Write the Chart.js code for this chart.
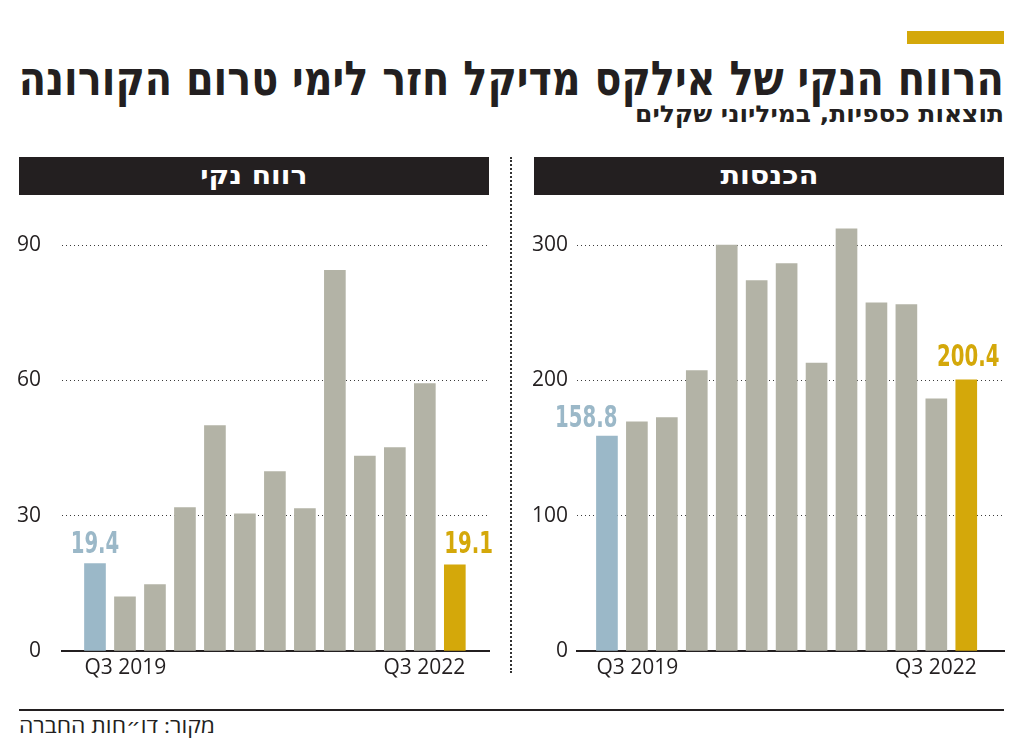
<!DOCTYPE html>
<html>
<head>
<meta charset="utf-8">
<script src="https://cdn.jsdelivr.net/npm/chart.js@4.4.1/dist/chart.umd.min.js"></script>
<style>
  html, body { margin: 0; padding: 0; background: #fff; }
  body { width: 1024px; height: 750px; position: relative; overflow: hidden; color: #231f20; }
  .abs { position: absolute; }
  .heb { font-family: "DejaVu Sans Condensed", "DejaVu Sans", sans-serif; font-stretch: condensed; font-weight: bold; white-space: nowrap; direction: rtl; }
  #goldmark { left: 907px; top: 31px; width: 97px; height: 13px; background: #d4a80a; }
  #title { right: 20px; top: 55px; font-size: 48px; line-height: 46px; transform-origin: right center; }
  #subtitle { right: 20px; top: 103px; font-size: 23px; line-height: 22px; transform-origin: right center; }
  .head { top: 157px; width: 470px; height: 38px; background: #231f20; display: flex; justify-content: center; align-items: center; }
  .head span { color: #fff; font-size: 25px; line-height: 38px; display: inline-block; transform-origin: center; }
  #sep { left: 510px; top: 157px; height: 516px; border-left: 2px dotted #333; }
  #rule { left: 19px; top: 709px; width: 985px; height: 2px; background: #231f20; }
  #source { left: 19px; top: 713px; font-family: "Open Sans", "DejaVu Sans", sans-serif; font-size: 20px; line-height: 26px; direction: rtl; white-space: nowrap; transform-origin: left center; }
  canvas { position: absolute; top: 200px; }
</style>
</head>
<body>
<div id="goldmark" class="abs"></div>
<div id="title" class="abs heb">הרווח הנקי של אילקס מדיקל חזר לימי טרום הקורונה</div>
<div id="subtitle" class="abs heb">תוצאות כספיות, במיליוני שקלים</div>
<div class="abs head" style="left:19px"><span class="heb" id="headProfit">רווח נקי</span></div>
<div class="abs head" style="left:534px"><span class="heb" id="headRevenue">הכנסות</span></div>
<div id="sep" class="abs"></div>
<canvas id="profitChart" width="500" height="490" style="left:0px"></canvas>
<canvas id="revenueChart" width="512" height="490" style="left:512px"></canvas>
<div id="rule" class="abs"></div>
<div id="source" class="abs">מקור: דו״חות החברה</div>

<script>
// quarters, Q3 2019 .. Q3 2022
const quarters = ['Q3 2019', 'Q4 2019', 'Q1 2020', 'Q2 2020', 'Q3 2020', 'Q4 2020', 'Q1 2021',
  'Q2 2021', 'Q3 2021', 'Q4 2021', 'Q1 2022', 'Q2 2022', 'Q3 2022'];
// net profit, millions ILS
const netProfit = [19.4, 12.0, 14.7, 31.8, 50.0, 30.4, 39.8, 31.6, 84.4, 43.2, 45.1, 59.3, 19.1];
// revenue, millions ILS
const revenue = [158.8, 169.3, 172.6, 207.2, 300.0, 273.8, 286.3, 212.8, 312.0, 257.3, 256.0, 186.4, 200.4];
const profitTicks = [0, 30, 60, 90];
const revenueTicks = [0, 100, 200, 300];

const INK = '#231f20';
const BLUE = '#9bb8c8';
const GRAY = '#b3b3a6';
const GOLD = '#d4a80a';

// squeeze the hebrew headings to the width they have in the print version
function fitX(id, target) {
  const el = document.getElementById(id);
  el.style.display = 'inline-block';
  const w = el.getBoundingClientRect().width;
  el.style.transform = 'scaleX(' + (target / w) + ')';
}
fitX('title', 985);
fitX('subtitle', 369);
fitX('headProfit', 107);
fitX('headRevenue', 98);
fitX('source', 196);

// numbers above the first and last bar (condensed by hand, no narrow font here)
const valueLabels = {
  id: 'valueLabels',
  afterDatasetsDraw(chart, args, opts) {
    const ctx = chart.ctx;
    const meta = chart.getDatasetMeta(0);
    const pts = chart.data.datasets[0].data;
    const sx = 0.73;
    ctx.save();
    ctx.font = 'bold 30px "DejaVu Sans Condensed", "DejaVu Sans", sans-serif';
    ctx.textBaseline = 'alphabetic';
    opts.items.forEach((item) => {
      const bar = meta.data[item.index];
      const half = bar.width / 2;
      let x = bar.x + (item.dx || 0);
      if (item.align === 'left') x -= half;
      if (item.align === 'right') x += half;
      ctx.save();
      ctx.translate(x, bar.y - item.gap);
      ctx.scale(sx, 1);
      ctx.textAlign = item.align;
      ctx.fillStyle = item.color;
      ctx.fillText(pts[item.index].y.toFixed(1), 0, 0);
      ctx.restore();
    });
    ctx.restore();
  }
};

const tickFont = { family: '"Open Sans", sans-serif', size: 21 };

function makeChart(id, values, yTicks, cfg) {
  const last = values.length - 1;
  return new Chart(document.getElementById(id), {
    type: 'bar',
    data: {
      datasets: [{
        data: values.map((v, i) => ({ x: i, y: v })),
        backgroundColor: values.map((v, i) => i === 0 ? BLUE : (i === last ? GOLD : GRAY)),
        barThickness: 21,
        borderWidth: 0
      }]
    },
    options: {
      responsive: false,
      animation: false,
      devicePixelRatio: 1,
      layout: { padding: { top: 0, left: 0, bottom: 0, right: cfg.padRight } },
      plugins: {
        legend: { display: false },
        tooltip: { enabled: false },
        valueLabels: { items: cfg.labels }
      },
      scales: {
        x: {
          type: 'linear',
          min: cfg.xMin,
          max: cfg.xMax,
          offset: false,
          grid: { display: false, offset: false, drawTicks: false },
          border: { display: true, color: INK, width: 2 },
          afterBuildTicks: (s) => { s.ticks = [{ value: -0.35 }, { value: last + 0.35 }]; },
          afterFit: (s) => { s.height = 39; },
          ticks: {
            align: 'inner',
            maxRotation: 0,
            autoSkip: false,
            padding: 4,
            color: INK,
            font: tickFont,
            callback: (v, i) => i === 0 ? quarters[0] : quarters[last]
          }
        },
        y: {
          min: 0,
          max: cfg.yMax,
          afterBuildTicks: (s) => { s.ticks = yTicks.map((v) => ({ value: v })); },
          afterFit: (s) => {
            s.width = cfg.axisWidth;
            s.paddingTop = 0;
            s.paddingBottom = 0;
          },
          grid: { color: '#3c3c3c', lineWidth: 1, drawTicks: false },
          border: { display: false, dash: [1, 3] },
          ticks: { padding: cfg.tickPad, color: INK, font: tickFont }
        }
      }
    },
    plugins: [valueLabels]
  });
}

makeChart('profitChart', netProfit, profitTicks, {
  xMin: -1.1, xMax: 13.14, yMax: 100, axisWidth: 62, tickPad: 21, padRight: 11,
  labels: [
    { index: 0, align: 'center', gap: 11, color: BLUE },
    { index: 12, align: 'left', gap: 12, color: GOLD }
  ]
});

makeChart('revenueChart', revenue, revenueTicks, {
  xMin: -1.0, xMax: 13.26, yMax: 1000 / 3, axisWidth: 65, tickPad: 9, padRight: 20,
  labels: [
    { index: 0, align: 'right', gap: 9, color: BLUE },
    { index: 12, align: 'center', dx: 2, gap: 14, color: GOLD }
  ]
});
</script>
</body>
</html>
